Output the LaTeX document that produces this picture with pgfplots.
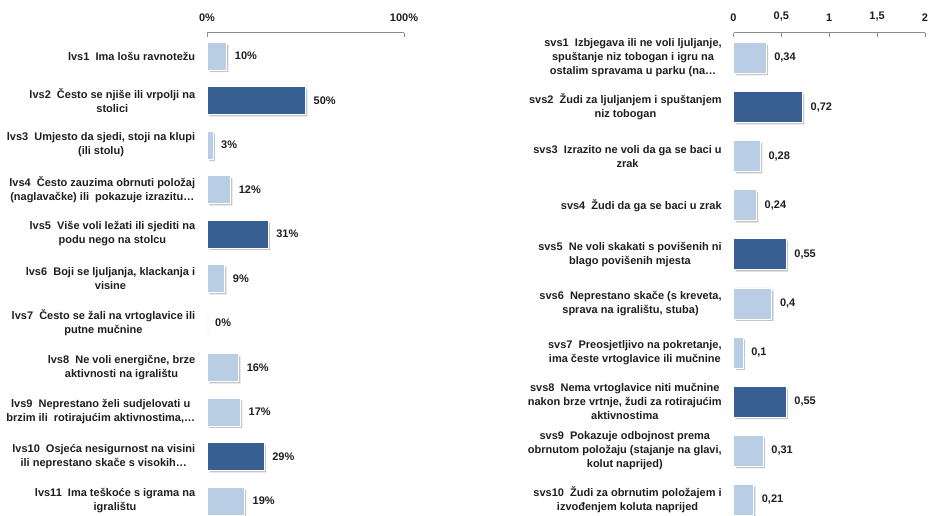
\documentclass[border=0pt]{standalone}
\usepackage{fontspec}
\setmainfont{Liberation Sans}
\usepackage{pgfplots}
\pgfplotsset{compat=1.18}
\usetikzlibrary{shadows}
\definecolor{lightbar}{RGB}{185,205,229}
\definecolor{darkbar}{RGB}{55,95,145}
\definecolor{axgray}{RGB}{140,140,140}
\definecolor{txt}{RGB}{30,30,30}
\begin{document}
\begin{tikzpicture}
\useasboundingbox (0,0) rectangle (928pt,515pt);
\pgfplotsset{
  panel/.style={
    xbar, bar shift=0pt,
    scale only axis,
    y dir=reverse,
    axis x line*=top,
    axis y line*=left,
    y axis line style={draw=none},
    x axis line style={draw=axgray, line width=0.6pt, -},
    ytick style={draw=none},
    xtick style={draw=axgray, line width=0.6pt},
    tick align=inside,
    major tick length=4.5pt,
    tick label style={font=\bfseries\fontsize{11}{14}\selectfont, text=txt},
    /pgf/number format/assume math mode=true,
    yticklabel style={align=center, xshift=-8.3pt},
    xticklabel style={yshift=7.5pt},
    point meta=x,
    every node near coord/.append style={font=\bfseries\fontsize{11}{14}\selectfont, text=txt, anchor=west, xshift=4.5pt},
    clip=false,
  },
  barlight/.style={fill=lightbar, draw=white, line width=0.8pt, drop shadow={shadow xshift=2pt, shadow yshift=-2pt, opacity=0.45}},
  bardark/.style={fill=darkbar, draw=white, line width=0.8pt, drop shadow={shadow xshift=2pt, shadow yshift=-2pt, opacity=0.45}},
}
\begin{axis}[panel,
  at={(207pt,482.5pt)}, anchor=north west,
  width=197pt, height=495.2pt,
  xmin=0, xmax=100, ymin=0.472, ymax=11.6,
  xtick={0,100}, xticklabel={\pgfmathprintnumber{\tick}\%},
  ytick={1,...,11},
  yticklabels={
    {lvs1~~Ima lošu ravnotežu},
    {lvs2~~Često se njiše ili vrpolji na\\stolici},
    {lvs3~~Umjesto da sjedi, stoji na klupi\\(ili stolu)},
    {lvs4~~Često zauzima obrnuti položaj\\(naglavačke) ili~~pokazuje izrazitu…},
    {lvs5~~Više voli ležati ili sjediti na\\podu nego na stolcu},
    {lvs6~~Boji se ljuljanja, klackanja i\\visine},
    {lvs7~~Često se žali na vrtoglavice ili\\putne mučnine},
    {lvs8~~Ne voli energične, brze\\aktivnosti na igralištu},
    {lvs9~~Neprestano želi sudjelovati u\\brzim ili~~rotirajućim aktivnostima,…},
    {lvs10~~Osjeća nesigurnost na visini\\ili neprestano skače s visokih…},
    {lvs11~~Ima teškoće s igrama na\\igralištu}},
  bar width=28pt,
  nodes near coords={\pgfmathprintnumber{\pgfplotspointmeta}\%},
]
\addplot[barlight] coordinates {(10,1) (3,3) (12,4) (9,6) (0,7) (16,8) (17,9) (19,11)};
\addplot[bardark] coordinates {(50,2) (31,5) (29,10)};
\end{axis}
\begin{axis}[panel,
  at={(733.5pt,482.5pt)}, anchor=north west,
  width=191.5pt, height=496.8pt,
  xmin=0, xmax=2, ymin=0.481, ymax=10.6,
  xtick={0,0.5,1,1.5,2},
  /pgf/number format/use comma,
  ytick={1,...,10},
  yticklabels={
    {svs1~~Izbjegava ili ne voli ljuljanje,\\spuštanje niz tobogan i igru na\\ostalim spravama u parku (na…},
    {svs2~~Žudi za ljuljanjem i spuštanjem\\niz tobogan},
    {svs3~~Izrazito ne voli da ga se baci u\\zrak},
    {svs4~~Žudi da ga se baci u zrak},
    {svs5~~Ne voli skakati s povišenih ni\\blago povišenih mjesta},
    {svs6~~Neprestano skače (s kreveta,\\sprava na igralištu, stuba)},
    {svs7~~Preosjetljivo na pokretanje,\\ima česte vrtoglavice ili mučnine},
    {svs8~~Nema vrtoglavice niti mučnine\\nakon brze vrtnje, žudi za rotirajućim\\aktivnostima},
    {svs9~~Pokazuje odbojnost prema\\obrnutom položaju (stajanje na glavi,\\kolut naprijed)},
    {svs10~~Žudi za obrnutim položajem i\\izvođenjem koluta naprijed}},
  bar width=31pt,
  nodes near coords,
]
\addplot[barlight] coordinates {(0.34,1) (0.28,3) (0.24,4) (0.4,6) (0.1,7) (0.31,9) (0.21,10)};
\addplot[bardark] coordinates {(0.72,2) (0.55,5) (0.55,8)};
\end{axis}
\end{tikzpicture}
\end{document}
